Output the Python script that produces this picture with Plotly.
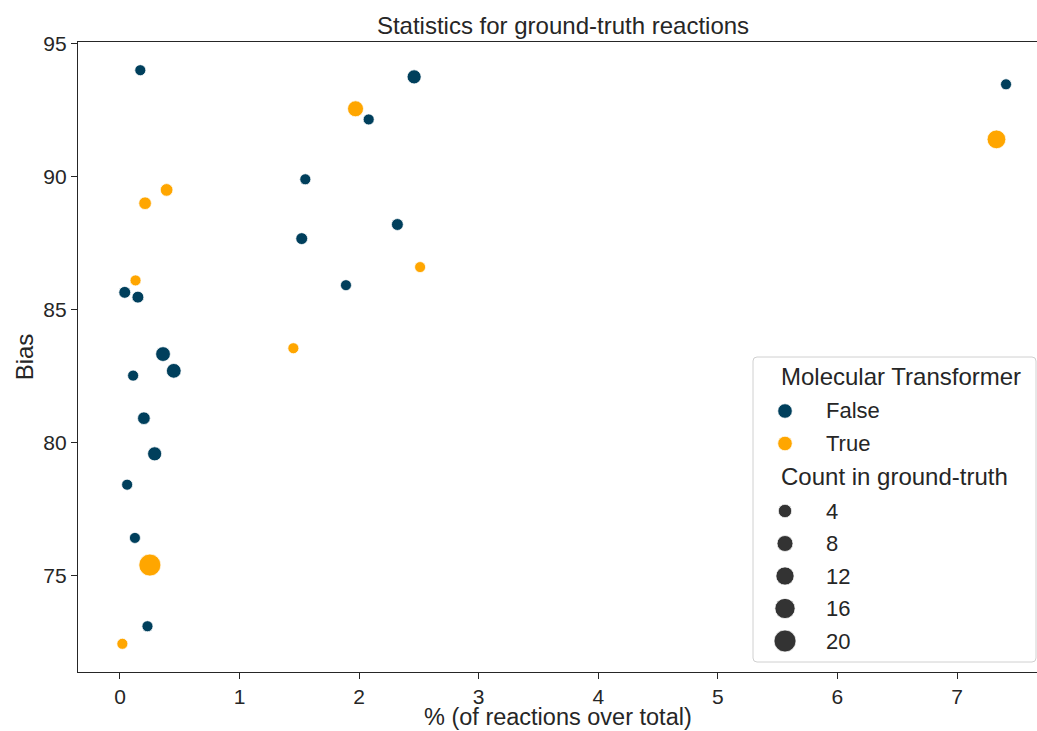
import numpy as np
import plotly.graph_objects as go

# Reaction classes the Molecular Transformer did not reproduce
false_pct = [0.17, 2.46, 7.41, 2.08, 1.55, 1.52, 2.32, 1.89, 0.04, 0.15,
             0.36, 0.45, 0.11, 0.20, 0.29, 0.06, 0.125, 0.23]
false_bias = [94.0, 93.75, 93.47, 92.15, 89.9, 87.67, 88.2, 85.92, 85.65, 85.47,
              83.33, 82.7, 82.52, 80.92, 79.58, 78.42, 76.42, 73.1]
false_count = [1, 5, 1, 1, 1, 2, 2, 1, 2, 2, 6, 6, 1, 3, 5, 1, 1, 1]

# Reaction classes the Molecular Transformer reproduced
true_pct = [1.97, 7.33, 0.39, 0.21, 0.13, 2.51, 1.45, 0.25, 0.02]
true_bias = [92.55, 91.4, 89.5, 89.0, 86.1, 86.6, 83.55, 75.4, 72.44]
true_count = [8, 13, 3, 3, 1, 1, 1, 20, 1]

hue_labels = ["False", "True"]
size_ticks = [4, 8, 12, 16, 20]
x_ticks = [0, 1, 2, 3, 4, 5, 6, 7]
y_ticks = [75, 80, 85, 90, 95]

BLUE = "#003f5c"
ORANGE = "#ffa600"
INK = "#262626"
FONT = "Liberation Sans, Arial, sans-serif"

# Marker area grows linearly with the count
all_counts = false_count + true_count
C_MIN, C_MAX = min(all_counts), max(all_counts)
D_MIN, D_MAX = 11.0, 22.0


def diameter(c):
    c = np.asarray(c, dtype=float)
    frac = (c - C_MIN) / (C_MAX - C_MIN)
    return np.sqrt(D_MIN ** 2 + (D_MAX ** 2 - D_MIN ** 2) * frac)


fig = go.Figure()

for xs, ys, cs, col, name in [
    (false_pct, false_bias, false_count, BLUE, "False"),
    (true_pct, true_bias, true_count, ORANGE, "True"),
]:
    fig.add_trace(go.Scatter(
        x=xs, y=ys, mode="markers", name=name, showlegend=False,
        marker=dict(size=diameter(cs), color=col, opacity=1,
                    line=dict(color="white", width=0.75)),
    ))

# ---- hand-drawn legend on an overlay axis spanning the plot area ----
W, H = 959.0, 630.0          # plot area in px
box_x0, box_x1 = 675 / W, 958 / W
box_y0, box_y1 = 10 / H, 315 / H
rx, ry = 4 / W, 4 / H
path = (f"M {box_x0 + rx},{box_y0} L {box_x1 - rx},{box_y0} "
        f"Q {box_x1},{box_y0} {box_x1},{box_y0 + ry} "
        f"L {box_x1},{box_y1 - ry} Q {box_x1},{box_y1} {box_x1 - rx},{box_y1} "
        f"L {box_x0 + rx},{box_y1} Q {box_x0},{box_y1} {box_x0},{box_y1 - ry} "
        f"L {box_x0},{box_y0 + ry} Q {box_x0},{box_y0} {box_x0 + rx},{box_y0} Z")
fig.add_shape(type="path", path=path, xref="paper", yref="paper",
              fillcolor="white", line=dict(color="#d0d0d0", width=1),
              layer="below")

row_top_px = 296.0            # first row, px above the plot bottom
gap_after_title = 35.0
gap_after_entry = 32.5
title_x = 701.0 / W
mark_x = 707.0 / W
text_x = 746.0 / W

rows = (["title:Molecular Transformer"] + ["hue:" + h for h in hue_labels]
        + ["title:Count in ground-truth"] + ["size:" + str(s) for s in size_ticks])
hue_colors = {"False": BLUE, "True": ORANGE}

y_px = row_top_px
prev_kind = None
for row in rows:
    kind, label = row.split(":", 1)
    if prev_kind is not None:
        y_px -= gap_after_title if prev_kind == "title" else gap_after_entry
    prev_kind = kind
    y = y_px / H
    if kind == "title":
        fig.add_annotation(x=title_x, y=y, xref="paper", yref="paper",
                           text=label, showarrow=False, xanchor="left",
                           yanchor="middle",
                           font=dict(family=FONT, size=24, color=INK))
        continue
    if kind == "hue":
        col, d = hue_colors[label], 14.5
    else:
        col, d = "#333333", float(diameter(int(label)))
    fig.add_trace(go.Scatter(
        x=[mark_x], y=[y], xaxis="x2", yaxis="y2", mode="markers",
        showlegend=False, hoverinfo="skip", cliponaxis=False,
        marker=dict(size=d, color=col, line=dict(color="white", width=0.75)),
    ))
    fig.add_annotation(x=text_x, y=y, xref="paper", yref="paper",
                       text=label, showarrow=False, xanchor="left",
                       yanchor="middle",
                       font=dict(family=FONT, size=22, color=INK))

# x-axis label, set just below the tick labels
fig.add_annotation(x=0.5, y=-(717 - 672) / H, xref="paper", yref="paper",
                   text="% (of reactions over total)", showarrow=False,
                   xanchor="center", yanchor="middle", borderpad=0,
                   font=dict(family=FONT, size=23.5, color=INK))

axis_common = dict(
    showgrid=False, zeroline=False, showline=True, linecolor=INK,
    linewidth=1.25, ticks="outside", ticklen=6, tickwidth=1.25,
    tickcolor=INK, tickfont=dict(family=FONT, size=21, color=INK),
    automargin=False,
)

fig.update_layout(
    width=1037, height=731,
    margin=dict(l=78, r=0, t=42, b=59),
    paper_bgcolor="white", plot_bgcolor="white",
    font=dict(family=FONT, color=INK),
    title=dict(text="Statistics for ground-truth reactions",
               x=(563 - 78) / W, xref="paper", xanchor="center",
               y=1 - 26 / 731, yref="container", yanchor="middle",
               font=dict(family=FONT, size=24, color=INK)),
    xaxis=dict(range=[-0.351, 7.669], tickvals=x_ticks, mirror=True,
               **axis_common),
    yaxis=dict(range=[71.38, 95.06], tickvals=y_ticks, mirror=False,
               title=dict(text="Bias", standoff=2,
                          font=dict(family=FONT, size=24, color=INK)),
               **axis_common),
    xaxis2=dict(overlaying="x", anchor="y2", range=[0, 1], visible=False,
                fixedrange=True),
    yaxis2=dict(overlaying="y", anchor="x2", range=[0, 1], visible=False,
                fixedrange=True),
    showlegend=False,
)

fig.write_html("out.html")
